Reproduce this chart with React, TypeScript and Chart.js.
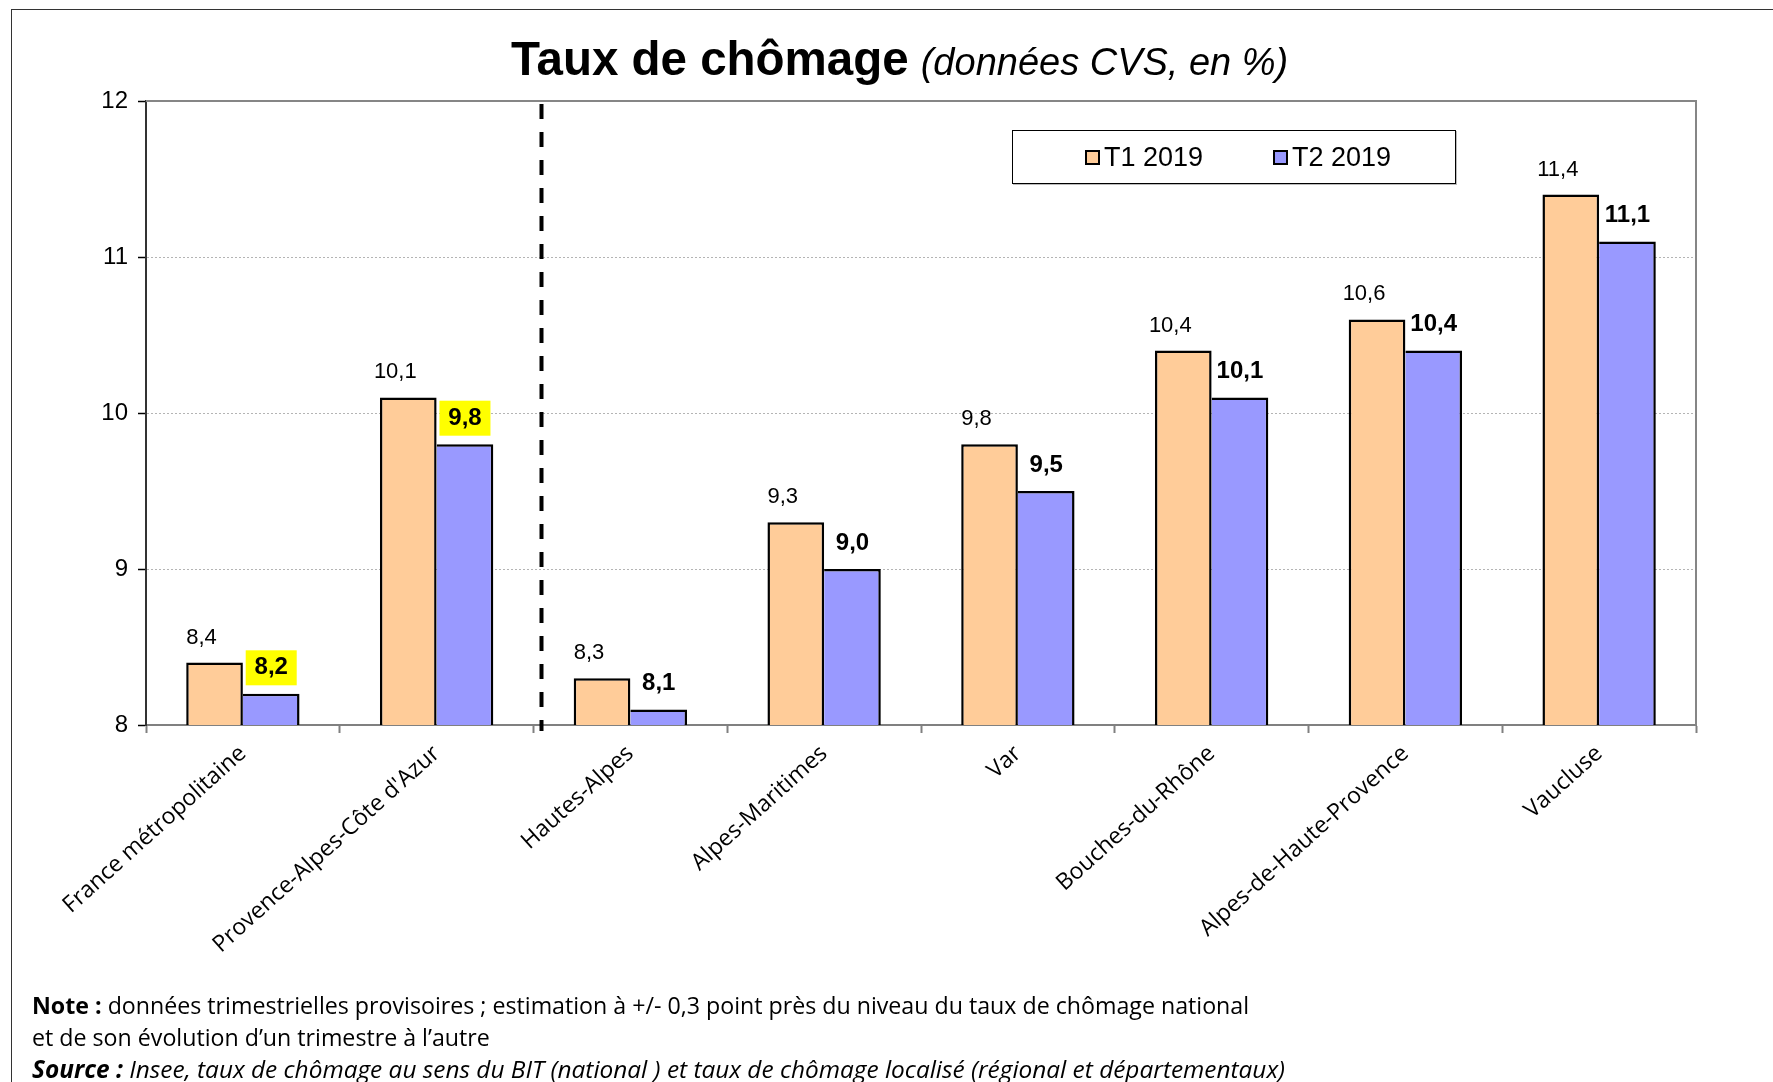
import React, { useEffect, useRef } from "react";
import { Chart, registerables } from "chart.js";

Chart.register(...registerables);

// ---- Data ----
const categories = [
  "France métropolitaine",
  "Provence-Alpes-Côte d'Azur",
  "Hautes-Alpes",
  "Alpes-Maritimes",
  "Var",
  "Bouches-du-Rhône",
  "Alpes-de-Haute-Provence",
  "Vaucluse",
];
const seriesNames = ["T1 2019", "T2 2019"];
const t1Values = [8.4, 10.1, 8.3, 9.3, 9.8, 10.4, 10.6, 11.4];
const t2Values = [8.2, 9.8, 8.1, 9.0, 9.5, 10.1, 10.4, 11.1];
const seriesColors = ["#FFCC99", "#9999FF"];
const highlightedCategories = ["France métropolitaine", "Provence-Alpes-Côte d'Azur"];
const separatorAfter = "Provence-Alpes-Côte d'Azur";
const yMin = 8;
const yMax = 12;
const yStep = 1;

const titleMain = "Taux de chômage";
const titleSub = "(données CVS, en %)";
const noteLabel = "Note :";
const noteText1 = " données trimestrielles provisoires ; estimation à +/- 0,3 point près du niveau du taux de chômage national";
const noteText2 = "et de son évolution d’un trimestre à l’autre";
const sourceLabel = "Source :";
const sourceText = " Insee, taux de chômage au sens du BIT (national ) et taux de chômage localisé (régional et départementaux)";

const ARIAL = '"Liberation Sans", Arial, sans-serif';
const CALIBRI = '"Open Sans", "Noto Sans", sans-serif';

const fmt = (v: number) => v.toFixed(1).replace(".", ",");

const overlayPlugin = {
  id: "overlay",
  afterDatasetsDraw(chart: any) {
    const ctx = chart.ctx;
    const { top, right, bottom, left } = chart.chartArea;
    const xs = chart.scales.x;
    ctx.save();
    // top and right frame
    ctx.strokeStyle = "#868686";
    ctx.lineWidth = 2;
    ctx.beginPath();
    ctx.moveTo(left, top);
    ctx.lineTo(right, top);
    ctx.lineTo(right, bottom);
    ctx.stroke();

    // dashed separator
    const i = categories.indexOf(separatorAfter);
    const sx = (xs.getPixelForValue(i) + xs.getPixelForValue(i + 1)) / 2 + 8;
    ctx.setLineDash([15, 13]);
    ctx.lineWidth = 4;
    ctx.strokeStyle = "#000";
    ctx.beginPath();
    ctx.moveTo(sx, top + 3);
    ctx.lineTo(sx, bottom + 6);
    ctx.stroke();
    ctx.setLineDash([]);

    // value labels
    chart.data.datasets.forEach((ds: any, di: number) => {
      const meta = chart.getDatasetMeta(di);
      meta.data.forEach((bar: any, j: number) => {
        const v = ds.data[j];
        const bold = di === 1;
        const txt = fmt(v);
        ctx.font = `${bold ? "bold " : ""}${bold ? 24 : 22}px ${ARIAL}`;
        const cy = bar.y - (bold ? 26 : 25);
        const cx = bold ? bar.x : bar.x - 13;
        if (bold && highlightedCategories.includes(categories[j])) {
          ctx.fillStyle = "#FFFF00";
          ctx.fillRect(bar.x - 25.5, cy - 17.5, 51, 35);
        }
        ctx.fillStyle = "#000";
        ctx.textAlign = "center";
        ctx.textBaseline = "middle";
        ctx.fillText(txt, cx, cy);
      });
    });
    ctx.restore();
  },
};

function ChartCanvas() {
  const ref = useRef<HTMLCanvasElement | null>(null);
  useEffect(() => {
    if (!ref.current) return;
    const chart = new Chart(ref.current, {
      type: "bar",
      data: {
        labels: categories,
        datasets: [
          {
            label: seriesNames[0],
            data: t1Values,
            backgroundColor: seriesColors[0],
            borderColor: "#000",
            borderWidth: { top: 2.5, left: 2.5, right: 2.5, bottom: 2.5 },
            borderSkipped: false,
            categoryPercentage: 0.585,
            barPercentage: 1,
          },
          {
            label: seriesNames[1],
            data: t2Values,
            backgroundColor: seriesColors[1],
            borderColor: "#000",
            borderWidth: { top: 2.5, left: 0, right: 2.5, bottom: 2.5 },
            borderSkipped: false,
            categoryPercentage: 0.585,
            barPercentage: 1,
          },
        ],
      },
      options: {
        responsive: false,
        animation: false,
        devicePixelRatio: 1,
        layout: { padding: { left: 0, top: 101, right: 77, bottom: 0 } },
        plugins: {
          legend: { display: false },
          title: { display: false },
          tooltip: { enabled: false },
        },
        scales: {
          x: {
            grid: {
              offset: true,
              drawOnChartArea: false,
              drawTicks: true,
              tickLength: 8,
              tickColor: "#808080",
              tickWidth: 2,
            },
            border: { color: "#808080", width: 2 },
            ticks: {
              autoSkip: false,
              minRotation: 42,
              maxRotation: 42,
              padding: 7,
              color: "#000",
              font: { family: CALIBRI, size: 23 },
            },
            afterFit: (s: any) => {
              s.height = 357;
            },
          },
          y: {
            min: yMin,
            max: yMax,
            ticks: {
              stepSize: yStep,
              padding: 10,
              color: "#000",
              font: { family: ARIAL, size: 24 },
            },
            grid: {
              color: (c: any) =>
                c.tick && c.tick.value > yMin && c.tick.value < yMax ? "#b4b4b4" : "rgba(0,0,0,0)",
              lineWidth: 1,
              drawTicks: true,
              tickLength: 8,
              tickColor: "#000",
              tickWidth: 1.5,
            },
            border: { color: "#333", width: 2, dash: [2, 2] },
            afterFit: (s: any) => {
              s.width = 146;
            },
          },
        },
      },
      plugins: [overlayPlugin],
    } as any);
    return () => chart.destroy();
  }, []);
  return (
    <canvas
      ref={ref}
      width={1773}
      height={1082}
      style={{ position: "absolute", left: 0, top: 0, width: 1773, height: 1082 }}
    />
  );
}

export default function App() {
  return (
    <div
      style={{
        position: "fixed",
        left: 0,
        top: 0,
        width: 1773,
        height: 1082,
        background: "#fff",
        overflow: "hidden",
      }}
    >
      <div
        style={{
          position: "absolute",
          left: 11,
          top: 9,
          width: 1800,
          height: 1200,
          border: "1.5px solid #333",
        }}
      />
      <ChartCanvas />
      <div
        style={{
          position: "absolute",
          left: 511,
          top: 35,
          whiteSpace: "nowrap",
          lineHeight: "47px",
          color: "#000",
          fontFamily: ARIAL,
        }}
      >
        <span style={{ fontWeight: "bold", fontSize: 47.5 }}>{titleMain}</span>
        <span style={{ fontStyle: "italic", fontSize: 38, marginLeft: 12 }}>{titleSub}</span>
      </div>
      <div
        style={{
          position: "absolute",
          left: 1012,
          top: 130,
          width: 444,
          height: 54,
          border: "1.5px solid #000",
          boxSizing: "border-box",
          background: "#fff",
          boxShadow: "1px 1px 0 #bbb",
        }}
      >
        {seriesNames.map((n, i) => (
          <div
            key={n}
            style={{
              position: "absolute",
              left: i === 0 ? 72 : 260,
              top: 6,
              height: 40,
              display: "flex",
              alignItems: "center",
              whiteSpace: "nowrap",
              fontFamily: ARIAL,
              fontSize: 27,
              color: "#000",
            }}
          >
            <span
              style={{
                display: "inline-block",
                width: 15,
                height: 15,
                boxSizing: "border-box",
                border: "2px solid #000",
                background: seriesColors[i],
                marginRight: 4,
              }}
            />
            <span>{n}</span>
          </div>
        ))}
      </div>
      <div
        style={{
          position: "absolute",
          left: 32,
          top: 989,
          whiteSpace: "nowrap",
          fontFamily: CALIBRI,
          fontSize: 23.2,
          lineHeight: "32px",
          color: "#000",
        }}
      >
        <div>
          <b>{noteLabel}</b>
          {noteText1}
        </div>
        <div>{noteText2}</div>
        <div style={{ fontStyle: "italic", fontSize: 24.4 }}>
          <b>{sourceLabel}</b>
          {sourceText}
        </div>
      </div>
    </div>
  );
}
